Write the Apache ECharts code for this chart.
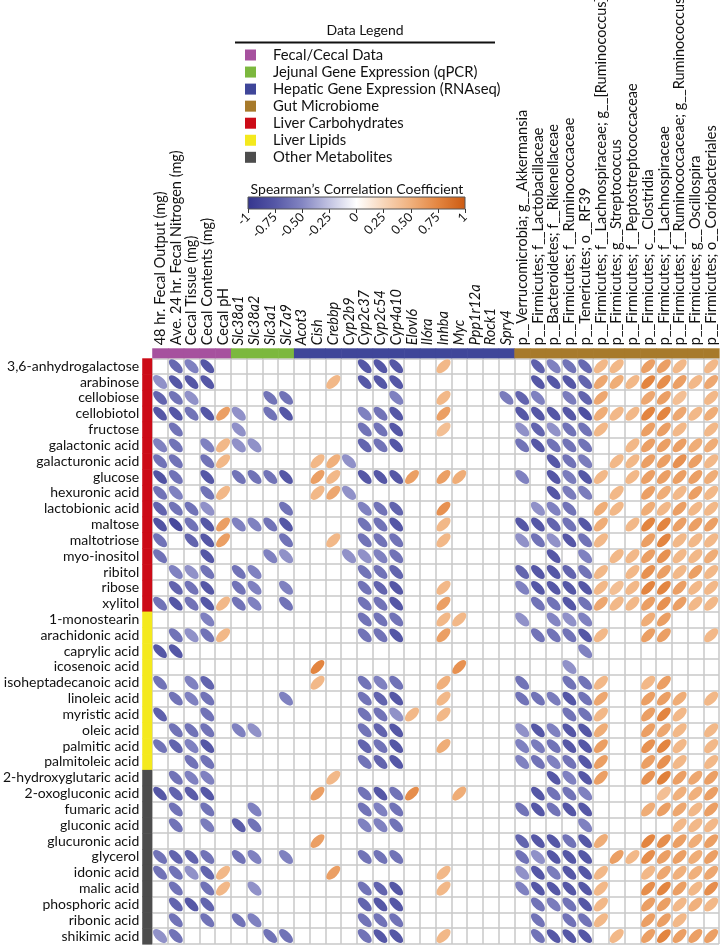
<!DOCTYPE html>
<html><head><meta charset="utf-8">
<script src="https://cdn.jsdelivr.net/npm/echarts@6/dist/echarts.min.js"></script>
<style>html,body{margin:0;padding:0;background:#fff}#c{width:722px;height:945px}</style>
</head><body><div id="c"></div>
<script>
const _ = null;
const rowLabels = ['3,6-anhydrogalactose','arabinose','cellobiose','cellobiotol','fructose','galactonic acid','galacturonic acid','glucose','hexuronic acid','lactobionic acid','maltose','maltotriose','myo-inositol','ribitol','ribose','xylitol',
  '1-monostearin','arachidonic acid','caprylic acid','icosenoic acid','isoheptadecanoic acid','linoleic acid','myristic acid','oleic acid','palmitic acid','palmitoleic acid',
  '2-hydroxyglutaric acid','2-oxogluconic acid','fumaric acid','gluconic acid','glucuronic acid','glycerol','idonic acid','malic acid','phosphoric acid','ribonic acid','shikimic acid'];
const rowGroups = [4,4,4,4,4,4,4,4,4,4,4,4,4,4,4,4, 5,5,5,5,5,5,5,5,5,5, 6,6,6,6,6,6,6,6,6,6,6];
const colLabels = ['48 hr. Fecal Output (mg)','Ave. 24 hr. Fecal Nitrogen (mg)','Cecal Tissue (mg)','Cecal Contents (mg)','Cecal pH',
  'Slc38a1','Slc38a2','Slc3a1','Slc7a9',
  'Acot3','Cish','Crebbp','Cyp2b9','Cyp2c37','Cyp2c54','Cyp4a10','Elovl6','Il6ra','Inhba','Myc','Ppp1r12a','Rock1','Spry4',
  'p__Verrucomicrobia; g__Akkermansia','p__Firmicutes; f__Lactobacillaceae','p__Bacteroidetes; f__Rikenellaceae','p__Firmicutes; f__Ruminococcaceae','p__Tenericutes; o__RF39','p__Firmicutes; f__Lachnospiraceae; g__[Ruminococcus]','p__Firmicutes; g__Streptococcus','p__Firmicutes; f__Peptostreptococcaceae','p__Firmicutes; c__Clostridia','p__Firmicutes; f__Lachnospiraceae','p__Firmicutes; f__Ruminococcaceae; g__Ruminococcus','p__Firmicutes; g__Oscillospira','p__Firmicutes; o__Coriobacteriales'];
const colGroups = [0,0,0,0,0, 1,1,1,1, 2,2,2,2,2,2,2,2,2,2,2,2,2,2, 3,3,3,3,3,3,3,3,3,3,3,3,3];
const groupNames = ['Fecal/Cecal Data','Jejunal Gene Expression (qPCR)','Hepatic Gene Expression (RNAseq)','Gut Microbiome','Liver Carbohydrates','Liver Lipids','Other Metabolites'];
const groupColors = ['#a6519e','#7cb83e','#3f4699','#a77a2b','#cc0b17','#f4e91d','#4d4d4d'];
const colorStops = ['#34358e','#5557a6','#8385c2','#c2c3e2','#ffffff','#f8d6b9','#f0b07c','#e38540','#cc5a12'];
const colorTickLabels = ['-1','-0.75','-0.50','-0.25','0','0.25','0.50','0.75','1'];

// Spearman correlations: rows = metabolites, columns = colLabels (null = not shown)
const carbValues = [
  [_,-0.65,-0.52,-0.75,_, _,_,_,_, _,_,_,_,-0.75,-0.75,-0.75,_,_,0.45,_,_,_,_, _,-0.7,-0.52,-0.6,-0.65,0.45,0.45,_,0.6,0.6,0.45,_,0.45],
  [-0.45,-0.75,-0.75,-0.75,_, _,_,_,_, _,_,0.45,_,-0.75,-0.75,-0.75,_,_,_,_,_,_,_, _,-0.75,-0.75,-0.75,-0.68,0.55,0.52,0.45,0.75,0.7,0.6,0.45,0.55],
  [-0.68,-0.6,-0.45,_,_, _,_,-0.6,-0.6, _,_,_,_,_,_,-0.52,_,_,0.45,_,_,_,-0.55, -0.68,-0.52,_,-0.55,-0.68,0.55,_,_,0.55,0.6,0.4,_,0.45],
  [-0.75,-0.75,-0.6,-0.75,0.6, -0.45,_,-0.6,-0.75, _,_,_,_,-0.52,-0.6,-0.75,_,_,0.6,_,_,_,_, -0.75,-0.75,-0.75,-0.75,-0.8,0.52,0.45,0.45,0.75,0.75,0.55,0.45,0.52],
  [_,-0.6,_,_,_, -0.45,_,_,_, _,_,_,_,-0.6,-0.6,-0.75,_,_,0.4,_,_,_,_, -0.45,-0.68,-0.45,-0.6,-0.6,0.45,_,_,0.6,0.6,0.45,_,0.45],
  [-0.52,-0.6,_,-0.52,0.45, -0.45,-0.45,_,_, _,_,_,_,-0.68,-0.6,-0.75,_,_,_,_,_,_,_, -0.6,-0.75,-0.6,-0.6,-0.6,_,_,0.45,0.6,0.6,0.6,0.52,0.52],
  [-0.6,-0.6,_,-0.6,0.45, _,_,_,_, _,0.45,0.5,-0.45,_,_,_,_,_,_,_,_,_,_, _,_,-0.75,-0.6,-0.55,_,0.45,0.45,0.6,0.6,0.68,0.6,0.45],
  [-0.78,-0.6,_,-0.75,_, -0.6,-0.6,-0.6,-0.75, _,0.6,0.45,_,-0.75,-0.75,-0.75,0.6,_,0.6,0.52,_,_,_, -0.52,_,-0.75,-0.55,-0.75,0.45,_,0.45,0.6,0.6,0.6,0.6,0.52],
  [-0.6,-0.52,_,-0.6,0.45, _,_,_,_, _,0.45,0.55,-0.45,_,_,_,_,_,_,_,_,_,_, _,_,-0.75,-0.55,-0.55,_,0.45,_,0.6,0.52,0.45,0.6,0.45],
  [-0.68,-0.6,-0.6,-0.45,_, _,_,_,-0.6, _,_,_,_,-0.52,-0.6,-0.68,_,_,0.68,_,_,_,_, _,-0.45,-0.52,-0.6,_,0.52,0.45,_,0.52,0.45,0.6,0.45,0.45],
  [-0.78,-0.85,-0.6,-0.75,0.6, -0.52,-0.52,-0.6,-0.75, _,_,_,_,-0.6,-0.6,-0.75,_,_,0.45,_,_,_,_, -0.75,-0.75,-0.68,-0.6,-0.75,0.52,_,0.45,0.75,0.75,0.6,0.6,0.6],
  [-0.6,_,-0.68,-0.75,0.6, _,_,_,-0.6, _,_,0.45,_,-0.6,-0.6,-0.6,_,_,0.45,_,_,_,_, -0.45,-0.6,-0.45,-0.75,-0.6,0.45,_,_,0.6,0.75,0.45,0.45,0.45],
  [-0.6,_,_,-0.75,_, _,_,-0.52,-0.45, _,_,_,-0.45,-0.45,-0.52,-0.6,_,_,_,_,_,_,_, _,_,-0.75,_,-0.52,_,0.45,0.45,0.6,0.68,0.45,0.45,0.52],
  [_,-0.52,-0.45,-0.6,_, -0.6,-0.52,_,_, _,_,_,_,-0.6,-0.6,-0.68,_,_,_,_,_,_,_, -0.68,-0.75,-0.75,-0.68,-0.6,0.45,_,0.45,0.68,0.6,0.45,0.6,0.45],
  [_,-0.68,-0.6,-0.75,_, -0.6,-0.52,_,-0.52, _,_,_,_,-0.6,-0.68,-0.75,_,_,0.45,_,_,_,_, -0.52,-0.75,-0.75,-0.75,-0.75,0.45,0.4,0.45,0.75,0.75,0.6,0.45,0.45],
  [-0.6,-0.75,-0.6,-0.75,0.45, -0.6,-0.52,_,-0.6, _,_,_,_,-0.6,-0.6,-0.75,_,_,0.6,_,_,_,_, _,-0.6,-0.6,-0.75,-0.6,0.55,0.45,0.45,0.6,0.68,0.6,0.45,0.45]
];
const lipidValues = [
  [_,_,_,-0.52,_, _,_,_,_, _,_,_,_,-0.6,-0.6,-0.6,_,_,0.45,0.45,_,_,_, -0.45,_,-0.5,-0.45,-0.52,_,_,_,0.52,0.6,_,_,_],
  [_,-0.6,-0.45,-0.6,0.45, _,_,_,_, _,_,_,_,-0.6,-0.6,-0.75,_,_,0.6,_,_,_,_, _,-0.6,-0.6,-0.6,-0.75,0.45,_,_,0.6,0.6,_,_,0.45],
  [-0.75,-0.75,_,_,_, _,_,_,_, _,_,_,_,_,_,_,_,_,_,_,_,_,_, _,_,_,_,-0.52,_,_,_,_,_,_,_,_],
  [_,_,_,_,_, _,_,_,_, _,0.75,_,_,_,_,_,_,_,_,0.68,_,_,_, _,_,_,-0.45,_,_,_,_,_,_,_,_,_],
  [-0.6,_,-0.52,-0.68,_, _,_,_,_, _,0.45,_,_,-0.6,-0.52,-0.6,_,_,0.5,_,_,_,_, -0.6,_,_,-0.6,-0.6,0.45,_,_,0.45,0.6,_,_,_],
  [_,-0.6,-0.52,-0.6,_, _,_,_,-0.52, _,_,_,_,-0.6,-0.68,-0.75,_,_,0.45,_,_,_,_, -0.6,-0.6,-0.55,-0.75,-0.6,0.55,_,_,0.6,0.6,0.52,_,0.45],
  [-0.7,_,_,-0.6,_, _,_,_,_, _,_,_,_,-0.6,-0.6,-0.45,0.45,_,0.45,_,_,_,_, _,_,_,-0.6,-0.6,0.45,_,_,0.6,0.75,0.45,_,_],
  [_,-0.6,-0.6,-0.6,_, -0.52,-0.45,_,_, _,_,_,_,-0.6,-0.68,-0.75,_,_,_,_,_,_,_, -0.45,-0.75,-0.52,-0.75,-0.75,0.52,_,_,0.6,0.55,0.45,_,0.45],
  [-0.6,-0.68,-0.52,-0.75,_, _,_,_,_, _,_,_,_,-0.68,-0.6,-0.75,_,_,0.52,_,_,_,_, -0.52,-0.55,-0.6,-0.75,-0.75,0.6,_,_,0.68,0.75,0.45,_,0.45],
  [_,_,-0.6,-0.6,_, _,_,_,_, _,_,_,_,-0.6,-0.68,-0.75,_,_,_,_,_,_,_, -0.52,-0.6,-0.52,-0.6,-0.75,0.6,_,_,0.6,0.68,0.45,_,0.45]
];
const otherValues = [
  [_,-0.6,-0.52,-0.52,_, _,_,_,_, _,_,0.45,_,_,_,_,_,_,_,_,_,_,_, _,_,-0.75,-0.52,-0.75,0.6,_,_,0.68,0.78,0.6,0.55,0.6],
  [-0.75,-0.68,-0.72,-0.75,_, _,_,_,_, _,0.6,_,_,-0.6,-0.75,-0.6,0.7,_,_,0.52,_,_,_, _,-0.75,-0.6,-0.6,-0.52,_,_,_,_,0.4,0.5,0.5,0.6],
  [_,-0.6,_,-0.6,_, _,-0.52,_,_, _,_,_,_,-0.6,-0.52,-0.6,_,_,_,_,_,_,_, -0.6,-0.75,-0.6,-0.75,-0.75,_,_,_,0.52,0.6,0.55,0.45,0.6],
  [_,-0.6,_,-0.55,_, -0.72,-0.6,_,_, _,_,_,_,-0.52,-0.52,-0.6,_,_,_,_,_,_,_, _,_,_,_,-0.52,_,_,_,_,_,0.45,0.45,0.45],
  [_,_,_,_,_, _,_,_,_, _,0.6,_,_,_,_,_,_,_,_,_,_,_,_, -0.68,-0.75,-0.75,-0.6,-0.75,0.52,_,_,0.75,0.7,0.6,0.52,0.6],
  [-0.6,-0.68,-0.68,-0.6,_, -0.6,-0.52,_,-0.52, _,_,_,_,-0.6,-0.6,-0.6,_,_,_,_,_,_,_, -0.6,-0.45,-0.75,-0.75,-0.75,_,0.6,0.45,0.7,0.6,0.6,0.52,0.6],
  [-0.6,-0.6,-0.45,-0.68,0.45, _,_,_,_, _,_,0.6,_,_,_,_,_,_,0.45,_,_,_,_, -0.45,-0.75,-0.55,-0.75,-0.75,0.45,_,_,0.45,0.55,0.5,0.5,0.55],
  [_,-0.6,_,-0.6,0.45, _,-0.45,_,_, _,_,_,_,-0.6,-0.68,-0.75,_,_,0.45,_,_,_,_, -0.52,-0.75,-0.75,-0.75,-0.75,0.45,_,_,0.7,0.75,0.6,0.45,0.7],
  [_,-0.68,-0.75,-0.68,_, _,_,_,_, _,_,_,_,-0.68,-0.75,-0.75,_,_,_,_,_,_,_, _,-0.6,-0.55,-0.6,-0.75,0.45,_,_,0.6,0.6,0.45,0.5,0.45],
  [_,-0.6,_,-0.6,_, -0.6,-0.52,_,_, _,_,_,_,-0.6,-0.6,-0.6,_,_,_,_,_,_,_, _,-0.6,_,-0.6,-0.6,0.45,_,_,0.6,0.6,0.45,_,_],
  [-0.45,-0.6,_,_,_, _,_,-0.6,-0.6, _,_,_,_,-0.6,-0.75,-0.75,_,_,0.45,_,_,_,_, _,-0.6,-0.75,-0.75,-0.75,_,0.45,_,0.6,0.75,0.6,0.6,0.6]
];

const allValues = carbValues.concat(lipidValues, otherValues);
const cellData = [];
allValues.forEach((row, r) => row.forEach((v, c) => { if (v !== null) cellData.push([c, r, v]); }));
const FONT = 'Lato';

const chart = echarts.init(document.getElementById('c'), null, {renderer: 'canvas', width: 722, height: 945});

const graphic = [
  {type: 'text', x: 365, y: 30, style: {text: 'Data Legend', font: '14px ' + FONT, fill: '#111', textAlign: 'center', textVerticalAlign: 'middle'}},
  {type: 'line', shape: {x1: 235, y1: 42.5, x2: 495, y2: 42.5}, style: {stroke: '#111', lineWidth: 2}},
  {type: 'text', x: 357, y: 189, style: {text: 'Spearman\u2019s Correlation Coefficient', font: '14px ' + FONT, fill: '#111', textAlign: 'center', textVerticalAlign: 'middle'}}
];
groupNames.forEach((n, i) => {
  const cy = 55 + i * 17.05;
  graphic.push({type: 'rect', shape: {x: 245, y: cy - 5.5, width: 11, height: 11}, style: {fill: groupColors[i]}});
  graphic.push({type: 'text', x: 273, y: cy, style: {text: n, font: '14.8px ' + FONT, fill: '#111', textAlign: 'left', textVerticalAlign: 'middle'}});
});

const option = {
  animation: false,
  backgroundColor: '#ffffff',
  grid: [
    {left: 149, top: 358.3, width: 570, height: 585.7, show: false},
    {left: 248, top: 197, width: 217, height: 12, show: false}
  ],
  xAxis: [
    {type: 'category', gridIndex: 0, data: colLabels, position: 'top',
      axisTick: {show: false}, axisLine: {show: false}, axisLabel: {show: false},
      splitLine: {show: true, interval: 0, lineStyle: {color: '#c8c8c8', width: 1.5}}},
    {type: 'value', gridIndex: 1, min: -1, max: 1, interval: 0.25, position: 'bottom',
      axisLine: {show: false}, axisTick: {show: true, length: 4, lineStyle: {color: '#333'}},
      splitLine: {show: false},
      axisLabel: {rotate: 45, margin: 6, fontFamily: FONT, fontSize: 12.5, color: '#111',
        formatter: v => colorTickLabels[Math.round((v + 1) * 4)]}}
  ],
  yAxis: [
    {type: 'category', gridIndex: 0, data: rowLabels, inverse: true,
      axisTick: {show: false}, axisLine: {show: false},
      axisLabel: {interval: 0, margin: 13, fontFamily: FONT, fontSize: 14, color: '#111'},
      splitLine: {show: true, interval: 0, lineStyle: {color: '#c8c8c8', width: 1.5}}},
    {type: 'value', gridIndex: 1, min: 0, max: 1, show: false}
  ],
  visualMap: {show: false, type: 'continuous', min: -1, max: 1, dimension: 2, seriesIndex: 0, inRange: {color: colorStops}},
  series: [
    {type: 'custom', xAxisIndex: 0, yAxisIndex: 0, data: cellData, encode: {x: 0, y: 1},
      renderItem: (params, api) => {
        const c = api.coord([api.value(0), api.value(1)]);
        const s = api.size([1, 1]);
        const r = api.value(2);
        const cell = s[0];
        return {type: 'ellipse', x: c[0], y: c[1], rotation: r < 0 ? -Math.PI / 4 : Math.PI / 4,
          shape: {cx: 0, cy: 0, rx: cell * 0.56, ry: cell * (0.34 - 0.1 * Math.abs(r))},
          style: {fill: api.visual('color')}};
      }},
    {type: 'custom', xAxisIndex: 0, yAxisIndex: 0, data: rowGroups.map((g, r) => [0, r, g]), encode: {x: 0, y: 1},
      renderItem: (params, api) => {
        const c = api.coord([0, api.value(1)]);
        const s = api.size([1, 1]);
        return {type: 'rect', shape: {x: params.coordSys.x - 10, y: c[1] - s[1] / 2, width: 10, height: s[1] + 0.6},
          style: {fill: groupColors[api.value(2)]}};
      }},
    {type: 'custom', xAxisIndex: 0, yAxisIndex: 0, data: colGroups.map((g, c) => [c, 0, g]), encode: {x: 0, y: 1},
      renderItem: (params, api) => {
        const c = api.coord([api.value(0), 0]);
        const s = api.size([1, 1]);
        return {type: 'rect', shape: {x: c[0] - s[0] / 2, y: params.coordSys.y - 10, width: s[0] + 0.6, height: 10},
          style: {fill: groupColors[api.value(2)]}};
      }},
    {type: 'custom', xAxisIndex: 0, yAxisIndex: 0, silent: true, data: colLabels.map((l, c) => [c, 0]), encode: {x: 0, y: 1},
      renderItem: (params, api) => {
        const idx = api.value(0);
        const c = api.coord([idx, 0]);
        const g = colGroups[idx];
        const italic = (g === 1 || g === 2);
        return {type: 'text', x: c[0], y: params.coordSys.y - 13, rotation: Math.PI / 2,
          style: {text: colLabels[idx], font: (italic ? 'italic ' : '') + '14.5px ' + FONT, fill: '#111',
            textAlign: 'left', textVerticalAlign: 'middle'}};
      }},
    {type: 'custom', xAxisIndex: 1, yAxisIndex: 1, data: [[-1, 0, 1, 1]],
      renderItem: (params, api) => {
        const p0 = api.coord([api.value(0), api.value(1)]);
        const p1 = api.coord([api.value(2), api.value(3)]);
        const stops = colorStops.map((col, i) => ({offset: i / (colorStops.length - 1), color: col}));
        return {type: 'rect', shape: {x: p0[0], y: p1[1], width: p1[0] - p0[0], height: p0[1] - p1[1]},
          style: {fill: new echarts.graphic.LinearGradient(0, 0, 1, 0, stops), stroke: '#555', lineWidth: 1}};
      }}
  ],
  graphic: graphic
};
chart.setOption(option);
</script>
</body></html>
